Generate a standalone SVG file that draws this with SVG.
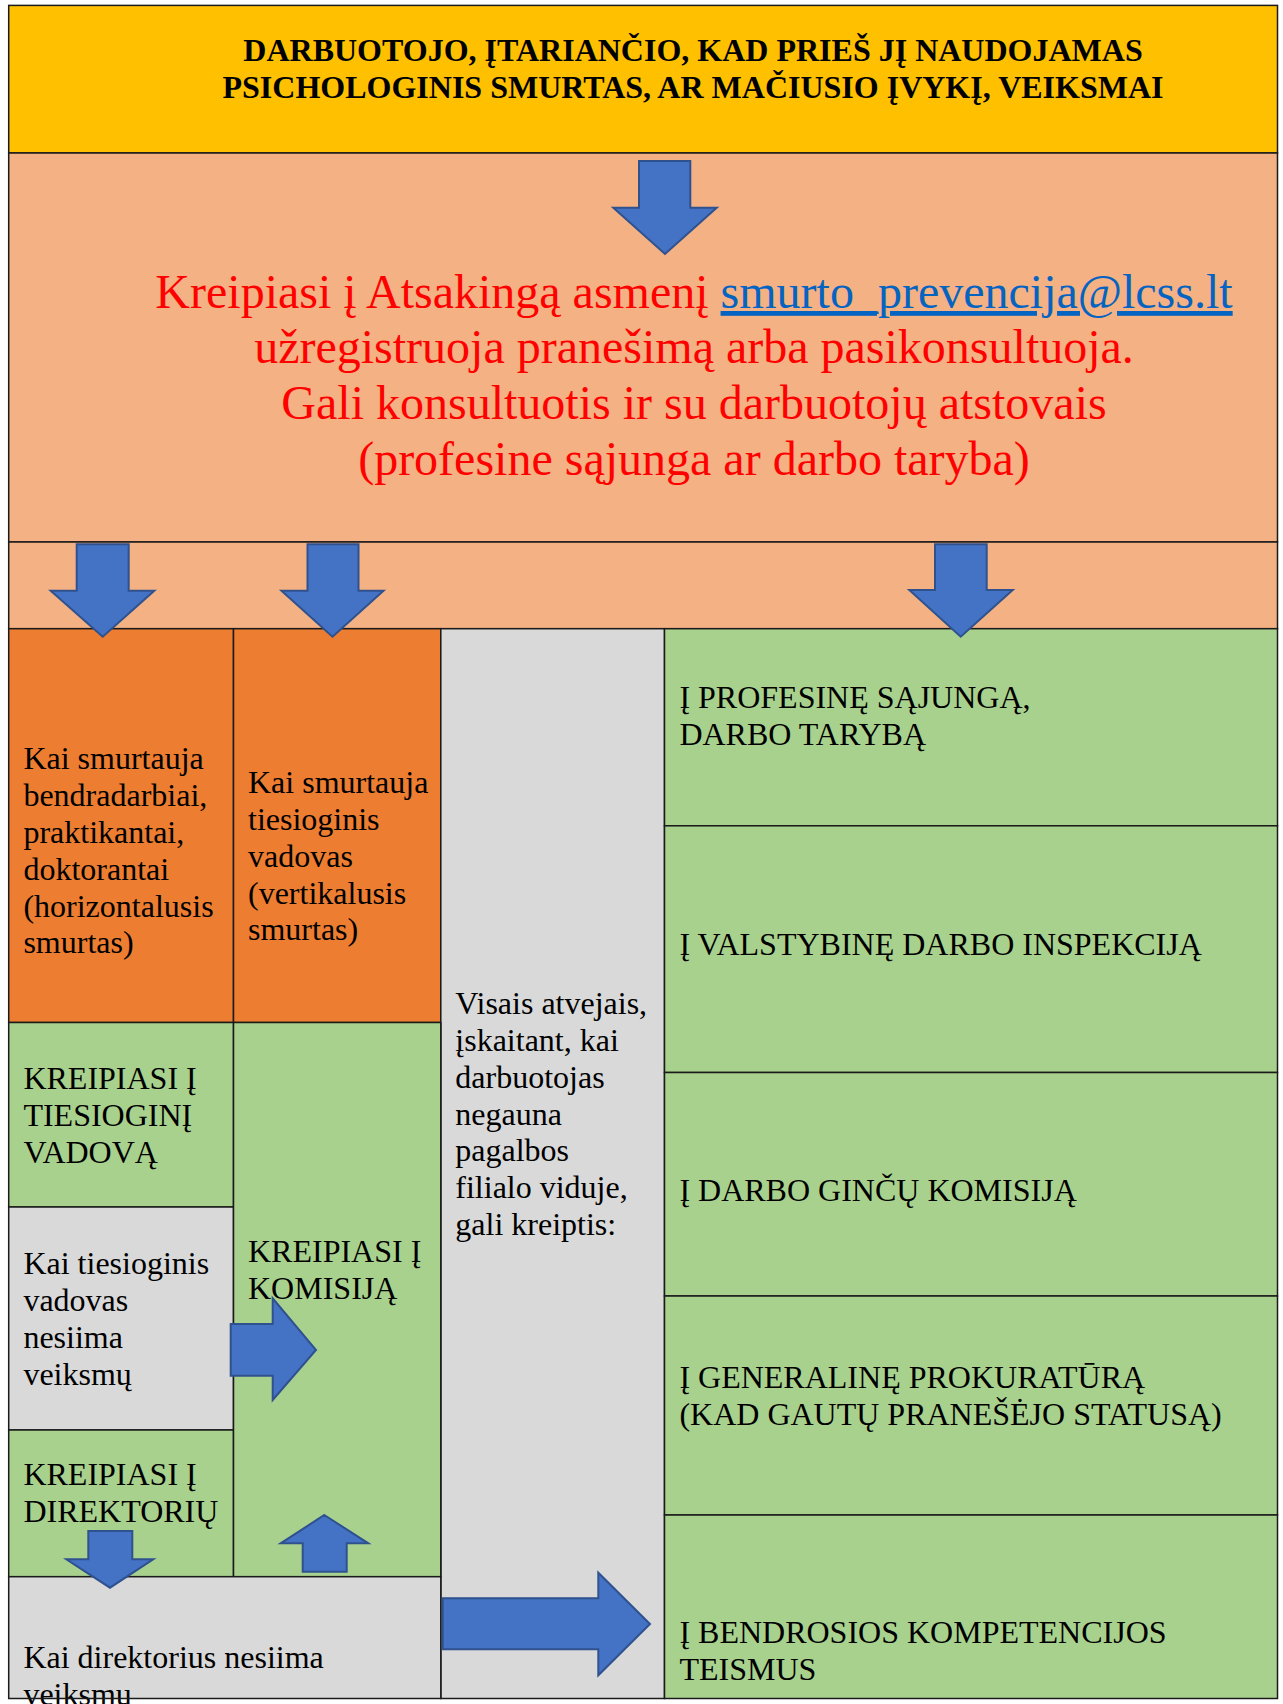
<svg xmlns="http://www.w3.org/2000/svg" width="1283" height="1704" viewBox="0 0 1283 1704">
<defs>
<style>
.cell{stroke:#1a1a1a;stroke-width:1.5}
.yel{fill:#FFC000}
.pea{fill:#F4B183}
.ora{fill:#ED7D31}
.grn{fill:#A9D18E}
.gry{fill:#D9D9D9}
.t{font-family:"Liberation Serif","Times New Roman",serif;font-size:32px;fill:#000}
.h{font-family:"Liberation Serif","Times New Roman",serif;font-size:32px;font-weight:bold;fill:#000;text-anchor:middle}
.r{font-family:"Liberation Serif","Times New Roman",serif;font-size:48px;fill:#FF0000;text-anchor:middle}
.arr{fill:#4472C4;stroke:#2F528F;stroke-width:2;stroke-linejoin:miter}
</style>
</defs>
<rect x="0" y="0" width="1283" height="1704" fill="#ffffff"/>

<g id="header">
<rect class="cell yel" x="8.7" y="5.4" width="1268.8" height="147.6"/>
<text class="h" x="693" y="61">DARBUOTOJO, ĮTARIANČIO, KAD PRIEŠ JĮ NAUDOJAMAS</text>
<text class="h" x="693" y="97.5">PSICHOLOGINIS SMURTAS, AR MAČIUSIO ĮVYKĮ, VEIKSMAI</text>
</g>

<g id="contact">
<rect class="cell pea" x="8.7" y="153" width="1268.8" height="389"/>
<text class="r" x="694" y="308">Kreipiasi į Atsakingą asmenį <tspan fill="#0563C1" text-decoration="underline">smurto_prevencija@lcss.lt</tspan></text>
<text class="r" x="694" y="363">užregistruoja pranešimą arba pasikonsultuoja.</text>
<text class="r" x="694" y="419">Gali konsultuotis ir su darbuotojų atstovais</text>
<text class="r" x="694" y="474.5">(profesine sąjunga ar darbo taryba)</text>
</g>

<g id="arrow-row">
<rect class="cell pea" x="8.7" y="542" width="1268.8" height="86.7"/>
</g>

<g id="horizontal">
<rect class="cell ora" x="8.7" y="628.7" width="224.8" height="393.8"/>
<text class="t" x="23.4" y="769">Kai smurtauja</text>
<text class="t" x="23.4" y="806">bendradarbiai,</text>
<text class="t" x="23.4" y="843">praktikantai,</text>
<text class="t" x="23.4" y="880">doktorantai</text>
<text class="t" x="23.4" y="916.5">(horizontalusis</text>
<text class="t" x="23.4" y="953">smurtas)</text>
</g>

<g id="vertical">
<rect class="cell ora" x="233.5" y="628.7" width="207.3" height="393.8"/>
<text class="t" x="248" y="793">Kai smurtauja</text>
<text class="t" x="248" y="830">tiesioginis</text>
<text class="t" x="248" y="867">vadovas</text>
<text class="t" x="248" y="903.5">(vertikalusis</text>
<text class="t" x="248" y="940">smurtas)</text>
</g>

<g id="all-cases">
<rect class="cell gry" x="440.8" y="628.7" width="223.7" height="1069.8"/>
<text class="t" x="455.3" y="1014">Visais atvejais,</text>
<text class="t" x="455.3" y="1051">įskaitant, kai</text>
<text class="t" x="455.3" y="1088">darbuotojas</text>
<text class="t" x="455.3" y="1124.5">negauna</text>
<text class="t" x="455.3" y="1161">pagalbos</text>
<text class="t" x="455.3" y="1198">filialo viduje,</text>
<text class="t" x="455.3" y="1235">gali kreiptis:</text>
</g>

<g id="manager">
<rect class="cell grn" x="8.7" y="1022.5" width="224.8" height="184.5"/>
<text class="t" x="23.4" y="1089">KREIPIASI Į</text>
<text class="t" x="23.4" y="1125.5">TIESIOGINĮ</text>
<text class="t" x="23.4" y="1162.5">VADOVĄ</text>
</g>

<g id="manager-no-action">
<rect class="cell gry" x="8.7" y="1207" width="224.8" height="223"/>
<text class="t" x="23.4" y="1274">Kai tiesioginis</text>
<text class="t" x="23.4" y="1311">vadovas</text>
<text class="t" x="23.4" y="1348">nesiima</text>
<text class="t" x="23.4" y="1385">veiksmų</text>
</g>

<g id="director">
<rect class="cell grn" x="8.7" y="1430" width="224.8" height="146.7"/>
<text class="t" x="23.4" y="1485">KREIPIASI Į</text>
<text class="t" x="23.4" y="1522">DIREKTORIŲ</text>
</g>

<g id="commission">
<rect class="cell grn" x="233.5" y="1022.5" width="207.3" height="554.2"/>
<text class="t" x="248" y="1262">KREIPIASI Į</text>
<text class="t" x="248" y="1299">KOMISIJĄ</text>
</g>

<g id="director-no-action">
<rect class="gry" x="8.7" y="1576.7" width="432.1" height="121.8"/>
<text class="t" x="23.4" y="1668">Kai direktorius nesiima</text>
<text class="t" x="23.4" y="1705">veiksmų</text>
<rect x="8.7" y="1576.7" width="432.1" height="121.8" fill="none" class="cell"/>
</g>

<g id="union">
<rect class="cell grn" x="664.5" y="628.7" width="613" height="197.1"/>
<text class="t" x="679.4" y="707.5">Į PROFESINĘ SĄJUNGĄ,</text>
<text class="t" x="679.4" y="744.5">DARBO TARYBĄ</text>
</g>

<g id="inspection">
<rect class="cell grn" x="664.5" y="825.8" width="613" height="246.7"/>
<text class="t" x="679.4" y="954.5">Į VALSTYBINĘ DARBO INSPEKCIJĄ</text>
</g>

<g id="disputes">
<rect class="cell grn" x="664.5" y="1072.5" width="613" height="223.5"/>
<text class="t" x="679.4" y="1200.5">Į DARBO GINČŲ KOMISIJĄ</text>
</g>

<g id="prosecutor">
<rect class="cell grn" x="664.5" y="1296" width="613" height="219"/>
<text class="t" x="679.4" y="1388">Į GENERALINĘ PROKURATŪRĄ</text>
<text class="t" x="679.4" y="1425">(KAD GAUTŲ PRANEŠĖJO STATUSĄ)</text>
</g>

<g id="courts">
<rect class="cell grn" x="664.5" y="1515" width="613" height="183.5"/>
<text class="t" x="679.4" y="1643">Į BENDROSIOS KOMPETENCIJOS</text>
<text class="t" x="679.4" y="1680">TEISMUS</text>
</g>

<g id="connectors">
<polygon class="arr" points="639,161 690.3,161 690.3,207.7 716.7,207.7 665,254 613.3,207.7 639,207.7"/>
<polygon class="arr" points="76.7,544.3 128.7,544.3 128.7,590.7 154.3,590.7 102.7,636.7 50.7,590.7 76.7,590.7"/>
<polygon class="arr" points="307.5,544.3 358.5,544.3 358.5,590.7 383.5,590.7 332.5,636.7 281.5,590.7 307.5,590.7"/>
<polygon class="arr" points="935,544.3 986.7,544.3 986.7,590 1012.7,590 960.7,636.7 909.3,590 935,590"/>
<polygon class="arr" points="230.7,1324 272.7,1324 272.7,1298.3 316,1350 272.7,1400 272.7,1375.7 230.7,1375.7"/>
<polygon class="arr" points="88.3,1531 132.3,1531 132.3,1559.3 153.3,1559.3 110,1587.7 66.3,1559.3 88.3,1559.3"/>
<polygon class="arr" points="324.3,1515 368.3,1543.3 346.7,1543.3 346.7,1571.7 302.7,1571.7 302.7,1543.3 280.7,1543.3"/>
<polygon class="arr" points="442.7,1598.3 598.3,1598.3 598.3,1572.7 650,1624 598.3,1675.3 598.3,1649.3 442.7,1649.3"/>
</g>
</svg>
